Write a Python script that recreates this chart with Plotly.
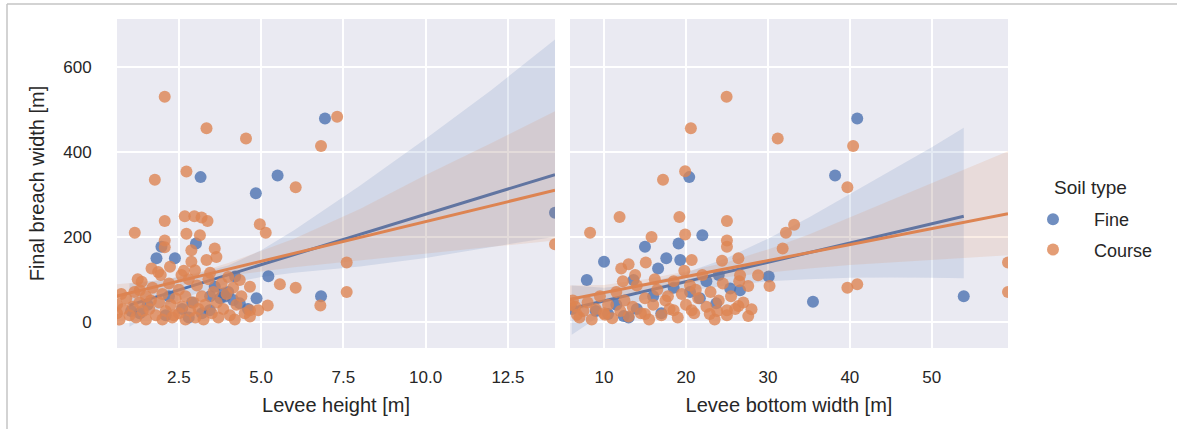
import plotly.graph_objects as go

# ---------------- data ----------------
# Left facet: levee height [m] vs final breach width [m]
left_fine_height = [6.94, 3.16, 5.50, 4.84, 13.93, 5.22, 6.82, 3.02, 1.97, 1.82, 2.38, 3.59,
                    3.90, 4.15, 4.35, 3.44, 1.31, 4.21, 3.76, 3.45, 2.60, 2.10, 1.55, 2.80,
                    3.20, 4.60, 1.05, 2.20, 2.90, 4.00, 4.86, 3.85]
left_fine_breach = [478, 340, 344, 302, 256, 107, 60, 184, 176, 149, 149, 82,
                    59, 51, 43, 27, 20, 106, 55, 60, 30, 15, 40, 10,
                    20, 30, 25, 60, 45, 70, 55, 66]

left_course_height = [2.07, 3.34, 4.54, 7.31, 6.82, 1.77, 2.73, 6.05, 2.07, 1.16, 2.68, 2.97,
                      3.19, 3.37, 4.96, 5.14, 2.73, 3.14, 2.07, 2.88, 3.59, 3.64, 7.60, 7.60,
                      5.57, 6.05, 6.80, 5.20, 13.93, 1.67, 1.87, 2.23, 2.88, 2.99, 3.34, 1.37,
                      1.31, 2.58, 4.66, 4.35, 4.66, 4.91, 4.66, 2.07,
                      0.62, 0.62, 0.70, 0.80, 0.90, 1.00, 1.10, 1.20, 1.30, 1.40, 1.50, 1.50,
                      1.60, 1.70, 1.80, 1.90, 2.00, 2.00, 2.10, 2.20, 2.25, 2.30, 2.40, 2.50,
                      2.50, 2.60, 2.70, 2.70, 2.80, 2.85, 2.95, 3.00, 3.05, 3.10, 3.20, 3.25,
                      3.30, 3.40, 3.50, 3.55, 3.65, 3.70, 3.80, 3.85, 3.95, 4.05, 4.15, 4.25,
                      4.40, 4.50, 4.20, 1.25, 1.95, 2.65, 3.45, 4.00, 0.75, 1.15, 1.65, 2.35]
left_course_breach = [529, 455, 431, 482, 413, 334, 353, 316, 237, 209, 248, 248,
                      245, 237, 229, 209, 207, 203, 191, 168, 172, 152, 139, 70,
                      88, 80, 38, 38, 182, 125, 117, 129, 141, 121, 145, 94,
                      74, 110, 82, 98, 27, 27, 12, 175,
                      20, 40, 5, 30, 55, 15, 35, 10, 45, 25, 5, 60,
                      30, 80, 15, 45, 5, 65, 25, 90, 40, 10, 55, 20,
                      75, 35, 5, 60, 100, 25, 45, 10, 85, 30, 60, 5,
                      40, 100, 20, 70, 45, 10, 90, 30, 65, 15, 80, 40,
                      60, 20, 5, 100, 110, 120, 115, 105, 65, 70, 50, 15]

# Right facet: levee bottom width [m] vs final breach width [m]
right_fine_width = [40.9, 38.2, 20.4, 22.0, 15.0, 19.1, 10.0, 17.6, 7.9, 13.6, 16.6, 19.3,
                    30.1, 25.4, 26.6, 35.5, 53.9, 12.4, 10.5, 23.7, 21.7, 14.0, 16.0, 18.5,
                    20.5, 22.5, 11.5, 13.0, 24.0, 17.0, 6.1, 9.0]
right_fine_breach = [478, 344, 340, 203, 176, 184, 141, 149, 98, 98, 125, 145,
                     106, 78, 74, 47, 60, 13, 18, 43, 55, 30, 60, 80,
                     70, 95, 40, 10, 110, 20, 30, 25]

right_course_width = [24.96, 20.6, 31.2, 40.4, 17.2, 19.9, 39.7, 11.9, 8.3, 19.2, 25.0, 19.9,
                      15.8, 32.2, 33.2, 25.0, 25.0, 31.8, 24.4, 26.4, 20.7, 15.1, 12.1, 13.0,
                      59.3, 59.3, 39.7, 40.9, 30.2, 28.8, 27.6, 26.6, 28.0, 27.6, 26.4, 25.0,
                      22.9, 20.7, 18.5, 15.0, 10.1, 6.7, 5.9,
                      6.2, 6.5, 7.0, 7.5, 8.0, 8.5, 9.0, 9.5, 10.0, 10.5, 11.0, 11.5,
                      12.0, 12.5, 13.0, 13.5, 14.0, 14.5, 15.0, 15.5, 16.0, 16.5, 17.0, 17.5,
                      18.0, 18.5, 19.0, 19.5, 20.0, 20.5, 21.0, 21.5, 22.0, 22.5, 23.0, 23.5,
                      24.0, 24.5, 25.0, 25.5, 26.0, 26.5, 27.0, 13.8, 16.2, 19.8, 12.3, 17.8,
                      21.2, 23.8]
right_course_breach = [529, 455, 431, 413, 334, 354, 316, 246, 209, 246, 237, 205,
                       199, 209, 228, 191, 176, 172, 143, 149, 145, 139, 125, 135,
                       139, 70, 80, 88, 84, 109, 84, 109, 29, 13, 37, 27,
                       18, 27, 27, 18, 16, 16, 40,
                       50, 35, 10, 25, 45, 5, 30, 60, 20, 40, 8, 70,
                       25, 50, 12, 35, 85, 20, 55, 5, 40, 75, 15, 50,
                       30, 95, 10, 65, 40, 85, 20, 55, 110, 35, 70, 5,
                       50, 90, 15, 60, 30, 95, 45, 110, 100, 120, 95, 60,
                       75, 25]

# Regression lines (end points) and confidence bands
left_fine_fit_x = [1.0, 13.93]
left_fine_fit_y = [39, 346]
left_fine_band_x = [1.0, 2.0, 3.0, 4.0, 5.0, 6.0, 8.0, 10.0, 12.0, 13.93]
left_fine_band_lo = [-12, 35, 65, 90, 105, 115, 130, 150, 175, 200]
left_fine_band_hi = [90, 98, 112, 132, 168, 215, 320, 430, 545, 664]

left_course_fit_x = [0.62, 13.93]
left_course_fit_y = [60, 309]
left_course_band_x = [0.62, 2.0, 3.0, 4.0, 6.0, 8.0, 10.0, 12.0, 13.93]
left_course_band_lo = [30, 72, 94, 108, 128, 145, 160, 176, 191]
left_course_band_hi = [88, 98, 114, 138, 195, 265, 345, 420, 495]

right_fine_fit_x = [6.06, 53.9]
right_fine_fit_y = [31, 248]
right_fine_band_x = [6.06, 10, 15, 20, 25, 30, 35, 40, 45, 50, 53.9]
right_fine_band_lo = [-31, 20, 52, 72, 85, 95, 100, 103, 104, 103, 102]
right_fine_band_hi = [85, 80, 90, 115, 150, 195, 245, 300, 355, 410, 456]

right_course_fit_x = [5.85, 59.3]
right_course_fit_y = [52.5, 254]
right_course_band_x = [5.85, 10, 15, 20, 25, 30, 35, 40, 45, 50, 55, 59.3]
right_course_band_lo = [22, 45, 70, 90, 105, 115, 125, 133, 140, 146, 151, 156]
right_course_band_hi = [85, 86, 100, 118, 140, 170, 205, 245, 285, 325, 365, 401]

soil_types = ["Fine", "Course"]
left_ticks = [2.5, 5.0, 7.5, 10.0, 12.5]
left_tick_text = ["2.5", "5.0", "7.5", "10.0", "12.5"]
right_ticks = [10, 20, 30, 40, 50]
y_ticks = [0, 200, 400, 600]

# ---------------- style ----------------
BLUE = "#4C72B0"
ORANGE = "#DD8452"
BAND = {"Fine": "rgba(76,114,176,0.15)", "Course": "rgba(221,132,82,0.15)"}
COL = {"Fine": BLUE, "Course": ORANGE}
FONT = "Liberation Sans, Arial, sans-serif"
TXT = "#262626"

fig = go.Figure()

panels = [
    ("x", {"Fine": (left_fine_height, left_fine_breach, left_fine_fit_x, left_fine_fit_y,
                    left_fine_band_x, left_fine_band_lo, left_fine_band_hi),
           "Course": (left_course_height, left_course_breach, left_course_fit_x, left_course_fit_y,
                      left_course_band_x, left_course_band_lo, left_course_band_hi)}),
    ("x2", {"Fine": (right_fine_width, right_fine_breach, right_fine_fit_x, right_fine_fit_y,
                     right_fine_band_x, right_fine_band_lo, right_fine_band_hi),
            "Course": (right_course_width, right_course_breach, right_course_fit_x, right_course_fit_y,
                       right_course_band_x, right_course_band_lo, right_course_band_hi)}),
]

for xa, groups in panels:
    for soil in soil_types:
        px_, py_, fx, fy, bx, blo, bhi = groups[soil]
        fig.add_trace(go.Scatter(
            x=px_, y=py_, mode="markers", xaxis=xa, yaxis="y",
            marker=dict(color=COL[soil], size=12, opacity=0.8, line=dict(width=0)),
            name=soil, legendgroup=soil, showlegend=(xa == "x"), hoverinfo="x+y"))
        fig.add_trace(go.Scatter(
            x=list(bx) + list(bx)[::-1], y=list(bhi) + list(blo)[::-1],
            mode="lines", fill="toself", fillcolor=BAND[soil], line=dict(width=0),
            xaxis=xa, yaxis="y", showlegend=False, hoverinfo="skip"))
        fig.add_trace(go.Scatter(
            x=fx, y=fy, mode="lines", line=dict(color=COL[soil], width=3),
            xaxis=xa, yaxis="y", showlegend=False, hoverinfo="skip"))

W, H = 1179, 429
L, R, T, B = 117, 171, 19, 81
pw = W - L - R
ph = H - T - B


def px2x(p):
    return (p - L) / pw


def py2y(p):
    return (H - B - p) / ph


axis_common = dict(
    showgrid=True, gridcolor="white", gridwidth=1.5, zeroline=False, showline=False,
    ticks="outside", ticklen=14, tickcolor="rgba(0,0,0,0)",
    tickfont=dict(family=FONT, size=17, color=TXT),
)

fig.update_layout(
    width=W, height=H,
    margin=dict(l=L, r=R, t=T, b=B),
    paper_bgcolor="white", plot_bgcolor="#EAEAF2",
    font=dict(family=FONT, color=TXT),
    xaxis=dict(domain=[0, px2x(555)], range=[0.62, 13.93], tickvals=left_ticks,
               ticktext=left_tick_text,
               title=dict(text="Levee height [m]", font=dict(family=FONT, size=20, color=TXT), standoff=11),
               **axis_common),
    xaxis2=dict(domain=[px2x(570), 1], range=[5.85, 59.3], tickvals=right_ticks,
                title=dict(text="Levee bottom width [m]", font=dict(family=FONT, size=20, color=TXT), standoff=11),
                **axis_common),
    yaxis=dict(domain=[0, 1], range=[-62, 712], tickvals=y_ticks,
               title=dict(text="Final breach width [m]", font=dict(family=FONT, size=20, color=TXT), standoff=13),
               **{**axis_common, "ticklen": 21}),
    showlegend=True,
    legend=dict(x=px2x(1012), y=py2y(201), xanchor="left", yanchor="top",
                bgcolor="rgba(0,0,0,0)", itemwidth=72, tracegroupgap=4,
                font=dict(family=FONT, size=18, color=TXT)),
    annotations=[dict(text="Soil type", x=px2x(1052), y=py2y(187), xref="paper", yref="paper",
                      xanchor="left", yanchor="middle", showarrow=False,
                      font=dict(family=FONT, size=19, color=TXT))],
    shapes=[
        dict(type="line", xref="paper", yref="paper", x0=px2x(7), x1=px2x(1177),
             y0=py2y(4), y1=py2y(4), line=dict(color="#c4c4c4", width=1.5)),
        dict(type="line", xref="paper", yref="paper", x0=px2x(7), x1=px2x(7),
             y0=py2y(4), y1=py2y(429), line=dict(color="#c4c4c4", width=1.5)),
    ],
)

fig.write_html("out.html", config={"displayModeBar": False},
               post_script="document.body.style.margin='0';")
